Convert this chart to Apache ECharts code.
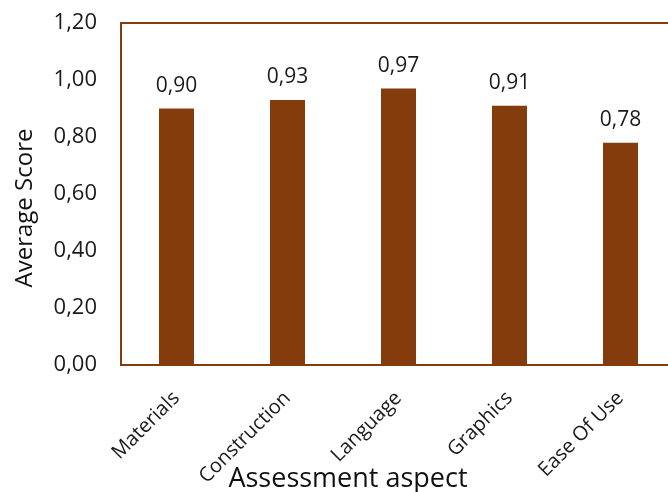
<!DOCTYPE html>
<html>
<head>
<meta charset="utf-8">
<script src="https://cdn.jsdelivr.net/npm/echarts@6/dist/echarts.min.js"></script>
<style>
  html, body { margin: 0; padding: 0; background: #fff; }
  #chart { width: 668px; height: 492px; }
</style>
</head>
<body>
<div id="chart"></div>
<script>
// Assessment aspects and their average scores
const aspects = ['Materials', 'Construction', 'Language', 'Graphics', 'Ease Of Use'];
const averageScores = [0.90, 0.93, 0.97, 0.91, 0.78];
const yAxisName = 'Average Score';
const xAxisName = 'Assessment aspect';

const brown = '#843C0C';
const font = '"Open Sans", Lato, sans-serif';
const fmt = v => v.toFixed(2).replace('.', ',');
const frameLine = { show: true, lineStyle: { color: brown, width: 2 } };

const chart = echarts.init(document.getElementById('chart'), null, { renderer: 'canvas' });
chart.setOption({
  animation: false,
  backgroundColor: '#fff',
  grid: {
    left: 121, top: 23, width: 555, height: 342,
    containLabel: false, outerBoundsMode: 'none', show: false
  },
  xAxis: [{
    type: 'category',
    data: aspects,
    axisLine: frameLine,
    axisTick: { show: false },
    axisLabel: {
      rotate: 45, margin: 30, fontSize: 20, color: '#1a1a1a', fontFamily: font,
      interval: 0
    }
  }, {
    // top edge of the plot frame
    type: 'category',
    data: aspects,
    position: 'top',
    axisLine: frameLine,
    axisTick: { show: false },
    axisLabel: { show: false }
  }],
  yAxis: {
    type: 'value',
    min: 0, max: 1.2, interval: 0.2,
    splitLine: { show: false },
    axisLine: frameLine,
    axisTick: { show: false },
    axisLabel: {
      margin: 24, fontSize: 22, color: '#1a1a1a', fontFamily: font,
      formatter: v => fmt(v)
    }
  },
  series: [{
    type: 'bar',
    data: averageScores,
    barWidth: 35,
    itemStyle: { color: brown },
    label: {
      show: true, position: 'top', distance: 12,
      fontSize: 21, color: '#1a1a1a', fontFamily: font,
      formatter: p => fmt(p.value)
    }
  }],
  graphic: [{
    type: 'text',
    x: 348, y: 479,
    style: {
      text: xAxisName, fontSize: 27, fontFamily: font, fill: '#111',
      align: 'center', verticalAlign: 'middle'
    }
  }, {
    type: 'text',
    x: 25, y: 208, rotation: Math.PI / 2,
    style: {
      text: yAxisName, fontSize: 24, fontFamily: font, fill: '#111',
      align: 'center', verticalAlign: 'middle'
    }
  }]
});
</script>
</body>
</html>
